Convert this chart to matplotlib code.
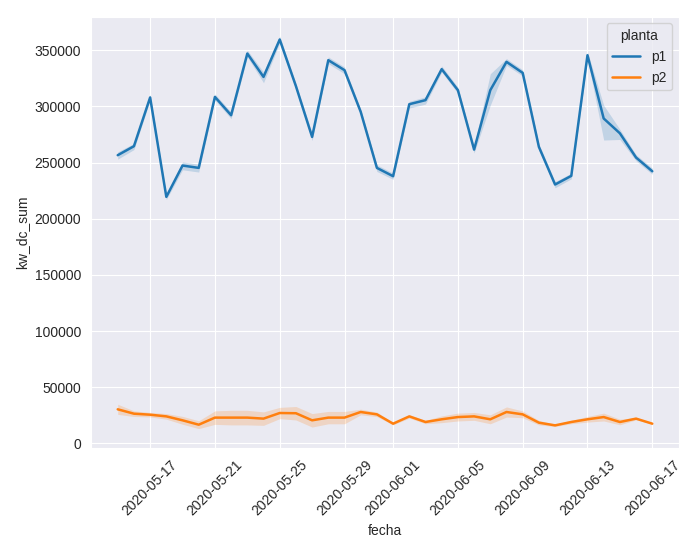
import numpy as np
import pandas as pd
import seaborn as sns
from matplotlib import pyplot as plt

sns.set_style("darkgrid")
plt.rcParams["font.family"] = ["Liberation Sans", "DejaVu Sans"]

fechas = pd.date_range("2020-05-15", "2020-06-17", freq="D")

# p1: media diaria y banda de confianza
p1_media = [256500, 264500, 307900, 219400, 247300, 245200, 308400, 292100, 347000, 326200,
            359500, 318000, 272800, 341100, 332200, 295100, 245200, 237800, 301900, 305500,
            333100, 314400, 261500, 314400, 339600, 329800, 263900, 230400, 238100, 345500,
            289200, 276000, 254400, 242200]
p1_bajo = [253000, 261500, 305500, 217000, 243500, 241500, 305500, 289000, 344000, 321000,
           356500, 315500, 269500, 338000, 329000, 292500, 242000, 235000, 298500, 302000,
           330500, 311500, 258500, 301000, 336500, 327000, 261000, 227500, 235500, 342500,
           270000, 270500, 251500, 239500]
p1_alto = [259500, 267000, 310500, 221500, 250500, 248500, 311000, 295000, 350000, 330500,
           362500, 320500, 276000, 344000, 335000, 297500, 248000, 240500, 304500, 308500,
           336000, 317000, 264500, 329000, 342500, 332500, 266500, 233000, 240500, 348500,
           301000, 279500, 257000, 245000]

# p2: media diaria y banda de confianza
p2_media = [30300, 26400, 25500, 24000, 20500, 16600, 22900, 22900, 22900, 22000,
            27000, 26800, 20500, 22900, 22900, 27900, 25800, 17500, 24000, 19000,
            21400, 23400, 24000, 21400, 27900, 25800, 18400, 16000, 19000, 21400,
            23400, 19000, 22000, 17500]
p2_ancho = [4500, 2500, 2000, 2500, 3500, 3500, 6000, 6500, 6500, 6000,
            5000, 6000, 6000, 5500, 5500, 2500, 2000, 1000, 1500, 1500,
            3000, 3500, 3500, 4000, 4500, 3000, 2000, 1000, 1500, 2500,
            3500, 2500, 1000, 500]

azul = "#1f77b4"
naranja = "#ff7f0e"

fig, ax = plt.subplots(figsize=(7, 5.5), dpi=100)

ax.fill_between(fechas, p1_bajo, p1_alto, color=azul, alpha=0.2, linewidth=0)
ax.plot(fechas, p1_media, color=azul, linewidth=1.8, label="p1")

p2_media = np.array(p2_media)
p2_ancho = np.array(p2_ancho)
ax.fill_between(fechas, p2_media - p2_ancho, p2_media + p2_ancho, color=naranja, alpha=0.2, linewidth=0)
ax.plot(fechas, p2_media, color=naranja, linewidth=1.8, label="p2")

ax.set_xlabel("fecha")
ax.set_ylabel("kw_dc_sum")
ax.legend(title="planta", loc="upper right")
plt.xticks(rotation=45)
plt.subplots_adjust(left=0.13, right=0.97, top=0.97, bottom=0.185)

plt.savefig("out.png")
